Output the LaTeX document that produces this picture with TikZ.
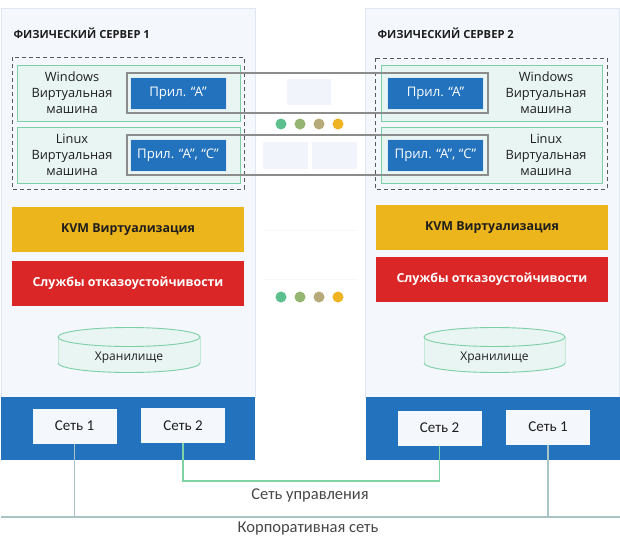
\documentclass[tikz,border=0pt]{standalone}
\usepackage{fontspec}
\setmainfont{Open Sans}
\newfontfamily\netfont{Carlito}
\definecolor{panelbg}{HTML}{F4F7FC}
\definecolor{panelrim}{HTML}{DFE7F2}
\definecolor{bandblue}{HTML}{2272BE}
\definecolor{appblue}{HTML}{2272BE}
\definecolor{vmfill}{HTML}{E8F5F2}
\definecolor{vmrim}{HTML}{7DCFA6}
\definecolor{kvmyellow}{HTML}{EDB51C}
\definecolor{hared}{HTML}{DA2626}
\definecolor{framegray}{HTML}{8C8C8C}
\definecolor{netline}{HTML}{A9C4C4}
\definecolor{mgmtgreen}{HTML}{7FD3A5}
\definecolor{dotA}{HTML}{5BBF8E}
\definecolor{dotB}{HTML}{95B573}
\definecolor{dotC}{HTML}{B5AA78}
\definecolor{dotD}{HTML}{EDB320}
\definecolor{ghost}{HTML}{F1F5FB}
\definecolor{txt}{HTML}{1E1E1E}
\begin{document}
\begin{tikzpicture}[x=1pt,y=-1pt,
  panel/.style={fill=panelbg,draw=panelrim,line width=0.8pt},
  band/.style={fill=bandblue},
  dashbox/.style={draw=black!65,dashed,dash pattern=on 4pt off 3pt,line width=0.9pt},
  vmbox/.style={fill=vmfill,draw=vmrim,line width=0.9pt},
  vmtext/.style={align=center,font=\fontsize{12.8}{16}\selectfont,text=txt},
  appbox/.style={fill=appblue,draw=white!85!appblue,line width=0.6pt,text=white,font=\fontsize{13.2}{15}\selectfont,minimum width=96pt,minimum height=32pt,inner sep=0pt},
  frame/.style={draw=framegray,line width=1.1pt},
  layer/.style={minimum width=232pt,minimum height=45pt,inner sep=0pt,font=\bfseries\fontsize{12.4}{14}\selectfont},
  titletext/.style={anchor=west,font=\bfseries\fontsize{11.2}{13}\selectfont,text=txt},
  netbox/.style={fill=panelbg,minimum width=84pt,minimum height=35pt,inner sep=0pt,font=\netfont\fontsize{15}{17}\selectfont,text=txt},
  netlabel/.style={font=\netfont\fontsize{16.5}{18}\selectfont,text=black!72},
  dot/.style={circle,minimum size=11pt,inner sep=0pt},
  cyl/.style={fill=vmfill,draw=vmrim,line width=0.9pt},
  ghostbox/.style={fill=ghost}]
\useasboundingbox (0,0) rectangle (620,544);
\fill[white] (0,0) rectangle (620,544);
% panels
\path[panel] (1,8) rectangle (255,397);
\path[panel] (365,8) rectangle (619,397);
\path[band] (1,397) rectangle (255,460);
\path[band] (366,397) rectangle (620,460);
% titles
\node[titletext] (t1) at (10,33) {ФИЗИЧЕСКИЙ СЕРВЕР 1};
\node[titletext] (t2) at (374,33) {ФИЗИЧЕСКИЙ СЕРВЕР 2};
% dashed groups
\draw[dashbox] (12,57) rectangle (244,189);
\draw[dashbox] (375,58) rectangle (607,189);
% VM boxes
\draw[vmbox] (17,65) rectangle (240,121);
\draw[vmbox] (17,127) rectangle (240,183);
\draw[vmbox] (381,65) rectangle (602,121);
\draw[vmbox] (381,127) rectangle (602,183);
\node[vmtext] (vw1) at (72,93) {Windows\\Виртуальная\\машина};
\node[vmtext] (vl1) at (72,155) {Linux\\Виртуальная\\машина};
\node[vmtext] (vw2) at (546,93) {Windows\\Виртуальная\\машина};
\node[vmtext] (vl2) at (546,155) {Linux\\Виртуальная\\машина};
% apps
\node[appbox] (a1) at (178,93) {Прил. “А”};
\node[appbox] (c1) at (178,155.5) {Прил. “А”, “С”};
\node[appbox] (a2) at (435.5,93) {Прил. “А”};
\node[appbox] (c2) at (435.5,155.5) {Прил. “А”, “С”};
% middle decoration
\path[ghostbox] (287,79) rectangle (331,105);
\path[ghostbox] (263,142) rectangle (308,169);
\path[ghostbox] (312,142) rectangle (357,169);
\draw[ghost!80!black!12!white,line width=0.8pt] (263,230) -- (357,230);
\draw[ghost!80!black!12!white,line width=0.8pt] (263,279.5) -- (357,279.5);
\node[dot,fill=dotA] (d1) at (281,124) {};
\node[dot,fill=dotB] (d2) at (300,124) {};
\node[dot,fill=dotC] (d3) at (319,124) {};
\node[dot,fill=dotD] (d4) at (338,124) {};
\node[dot,fill=dotA] (e1) at (281,297) {};
\node[dot,fill=dotB] (e2) at (300,297) {};
\node[dot,fill=dotC] (e3) at (319,297) {};
\node[dot,fill=dotD] (e4) at (338,297) {};
% replication frames
\draw[frame] (127,73) rectangle (488,113);
\draw[frame] (127,135) rectangle (488,175);
% layers
\node[layer,fill=kvmyellow,text=txt] (k1) at (128,229.5) {KVM Виртуализация};
\node[layer,fill=hared,text=white] (h1) at (128,283) {Службы отказоустойчивости};
\node[layer,fill=kvmyellow,text=txt] (k2) at (492,227.5) {KVM Виртуализация};
\node[layer,fill=hared,text=white] (h2) at (492,279) {Службы отказоустойчивости};
% storage
\path[cyl,draw=none] (58,337) -- (58,363) arc[start angle=180,end angle=360,x radius=71,y radius=-9.5] -- (200,337) -- cycle;
\draw[vmrim,line width=0.9pt] (58,363) arc[start angle=180,end angle=360,x radius=71,y radius=-9.5];
\draw[vmrim!45,line width=0.6pt] (58,337) -- (58,363) (200,337) -- (200,363);
\draw[cyl] (129,337) ellipse[x radius=71,y radius=9.5];
\node[font=\fontsize{12}{14}\selectfont,text=txt] (s1) at (129,358) {Хранилище};
\path[cyl,draw=none] (424,337) -- (424,363) arc[start angle=180,end angle=360,x radius=70.5,y radius=-9.5] -- (565,337) -- cycle;
\draw[vmrim,line width=0.9pt] (424,363) arc[start angle=180,end angle=360,x radius=70.5,y radius=-9.5];
\draw[vmrim!45,line width=0.6pt] (424,337) -- (424,363) (565,337) -- (565,363);
\draw[cyl] (494.5,337) ellipse[x radius=70.5,y radius=9.5];
\node[font=\fontsize{12}{14}\selectfont,text=txt] (s2) at (494.5,358) {Хранилище};
% network boxes
\node[netbox] (n1l) at (74.5,426) {Сеть 1};
\node[netbox] (n2l) at (183,425.5) {Сеть 2};
\node[netbox] (n2r) at (439.5,428) {Сеть 2};
\node[netbox] (n1r) at (548,427) {Сеть 1};
% networks
\coordinate (corpL) at (1,517);
\coordinate (corpR) at (620,517);
\coordinate (mgmt) at (310,481);
\draw[netline,line width=1.3pt] (corpL) -- (corpR);
\draw[netline,line width=1.3pt] (n1l.south) -- (n1l.south |- corpL);
\draw[netline,line width=1.3pt] (n1r.south) -- (n1r.south |- corpL);
\draw[mgmtgreen,line width=1.3pt] (n2l.south) |- (mgmt) -| (n2r.south);
\node[netlabel] (lm) at (310,495) {Сеть управления};
\node[netlabel] (lc) at (308,529) {Корпоративная сеть};
\end{tikzpicture}
\end{document}
